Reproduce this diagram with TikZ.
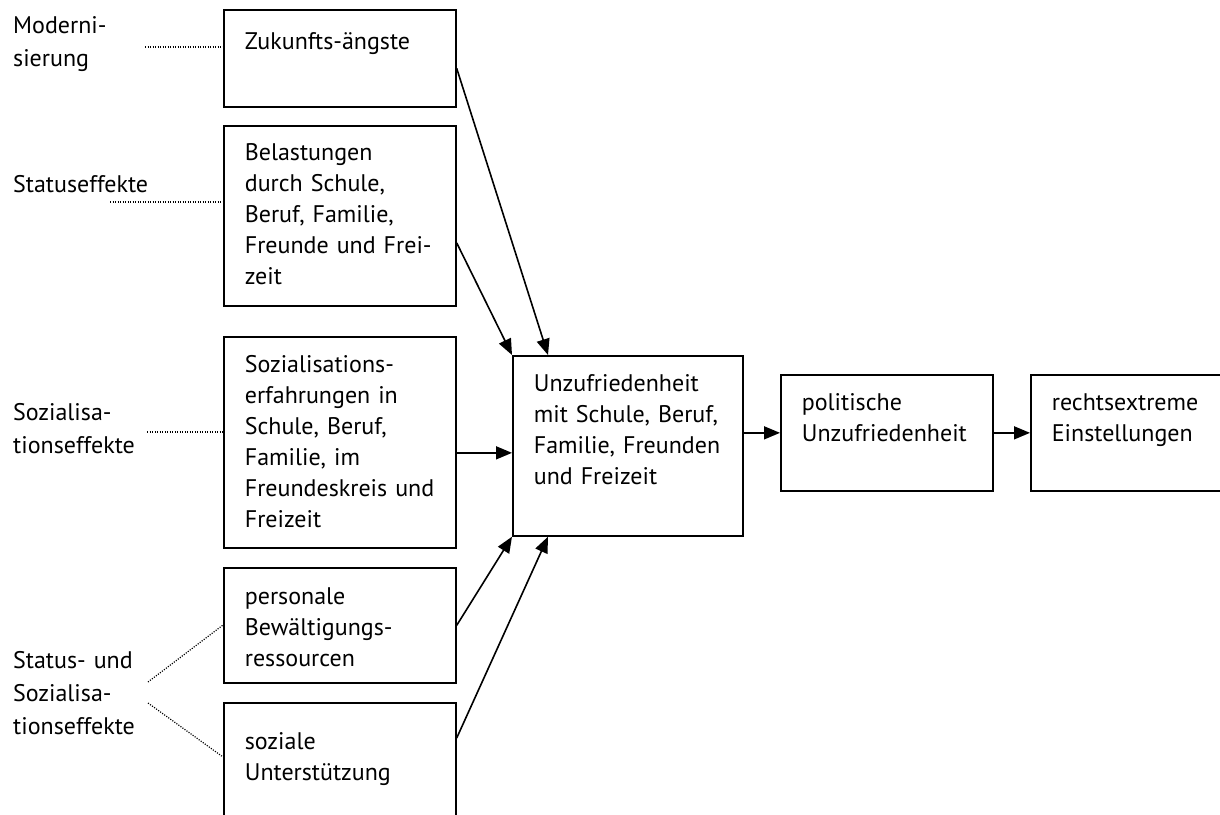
\documentclass[tikz,border=0pt]{standalone}
\usepackage{fontspec}
\setmainfont{PT Sans}
\usetikzlibrary{arrows.meta}

\newcommand{\boxLineWidth}{1.7pt}
\newcommand{\arrowLineWidth}{1.6pt}
\newcommand{\dotLineWidth}{1.2pt}
\newcommand{\leftBoxX}{223}
\newcommand{\labelX}{13}
\newcommand{\boxFont}{\fontsize{24}{31}\selectfont}
\newcommand{\labelFont}{\fontsize{24}{33}\selectfont}

\tikzset{
  box/.style={draw, line width=\boxLineWidth, anchor=north west, align=left,
    inner xsep=21pt, inner ysep=0pt, font=\boxFont},
  effect/.style={anchor=base west, align=left, text width=190pt, inner sep=0pt, font=\labelFont},
  arr/.style={line width=\arrowLineWidth, -{Triangle[length=16pt,width=13pt]}},
  link/.style={line width=\dotLineWidth, dash pattern=on 1.1pt off 1.4pt}
}

\begin{document}
\begin{tikzpicture}[x=1pt, y=-1pt]
    \useasboundingbox (0,0) rectangle (1220,814);
    \clip (0,0) rectangle (1220,814);

    % Effect labels
    \node[effect] (modern) at (\labelX,33) {Moderni-\\sierung};
    \node[effect] (status) at (\labelX,192) {Statuseffekte};
    \node[effect] (sozeff) at (\labelX,420) {Sozialisa-\\tionseffekte};
    \node[effect] (both) at (\labelX,668) {Status- und\\Sozialisa-\\tionseffekte};

    % Left column of boxes
    \node[box, text width=190pt, text height=40pt, text depth=57pt] (zukunft) at (\leftBoxX,9) {Zukunfts-ängste};
    \node[box, text width=190pt, text height=35pt, text depth=145pt] (belast) at (\leftBoxX,125) {Belastungen\\durch Schule,\\Beruf, Familie,\\Freunde und Frei-\\zeit};
    \node[box, text width=190pt, text height=36pt, text depth=175pt] (sozial) at (\leftBoxX,336) {Sozialisations-\\erfahrungen in\\Schule, Beruf,\\Familie, im\\Freundeskreis und\\Freizeit};
    \node[box, text width=190pt, text height=37pt, text depth=78pt] (personal) at (\leftBoxX,567) {personale\\Bewältigungs-\\ressourcen};
    \node[box, text width=190pt, text height=47pt, text depth=100pt] (unterst) at (\leftBoxX,702) {soziale\\Unterstützung};

    % Chain to the right
    \node[box, text width=188pt, text height=36pt, text depth=144pt] (unzufr) at (512,355) {Unzufriedenheit\\mit Schule, Beruf,\\Familie, Freunden\\und Freizeit};
    \node[box, text width=170pt, text height=36pt, text depth=80pt] (polit) at (780,374) {politische\\Unzufriedenheit};
    \node[box, text width=170pt, text height=36pt, text depth=80pt] (rechts) at (1030,374) {rechtsextreme\\Einstellungen};

    % Dotted links
    \coordinate (modStart) at (145,47);
    \coordinate (statStart) at (110,202);
    \coordinate (sozStart) at (147,432);
    \coordinate (bothUp) at (148,682);
    \coordinate (bothDown) at (148,703);
    \draw[link] (modStart) -- (zukunft.west |- modStart);
    \draw[link] (statStart) -- (belast.west |- statStart);
    \draw[link] (sozStart) -- (sozial.west |- sozStart);
    \draw[link] (bothUp) -- ([yshift=-58pt]personal.north west);
    \draw[link] (bothDown) -- ([yshift=-55pt]unterst.north west);

    % Arrows
    \coordinate (sozIn) at ([yshift=-7pt]unzufr.west);
    \draw[arr] ([yshift=-10pt]zukunft.east) -- ([xshift=36pt]unzufr.north west);
    \draw[arr] ([yshift=-27pt]belast.east) -- (unzufr.north west);
    \draw[arr] (sozial.east |- sozIn) -- (sozIn);
    \draw[arr] (personal.east) -- (unzufr.south west);
    \draw[arr] ([yshift=-36pt]unterst.north east) -- ([xshift=36pt]unzufr.south west);
    \draw[arr] (unzufr.east |- polit.west) -- (polit.west);
    \draw[arr] (polit.east) -- (rechts.west);
\end{tikzpicture}
\end{document}
